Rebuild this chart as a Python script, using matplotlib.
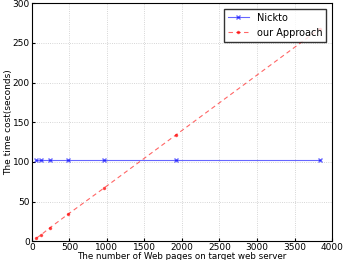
import matplotlib
matplotlib.use("Agg")
import matplotlib.pyplot as plt

pages = [60, 120, 240, 480, 960, 1920, 3840]
nickto = [102, 102, 102, 102, 102, 102, 102]
ours = [4, 8, 17, 34, 67, 134, 268]

fig = plt.figure(figsize=(3.43, 2.60), dpi=100)
ax = fig.add_axes([0.093, 0.072, 0.875, 0.916])
ax.plot(pages, nickto, color="blue", marker="x", markersize=3, linewidth=0.8, label="Nickto", alpha=0.6)
ax.plot(pages, ours, color="red", marker=".", markersize=3, linestyle=(0, (4, 3)), linewidth=0.8, label="our Approach", alpha=0.6)
ax.set_xlim(0, 4000)
ax.set_ylim(0, 300)
ax.set_xticks(range(0, 4001, 500))
ax.set_yticks(range(0, 301, 50))
ax.grid(True, linestyle=":", color="#c8c8c8", linewidth=0.6)
ax.tick_params(labelsize=6.5, length=2, direction="in", pad=1.5)
ax.set_xlabel("The number of Web pages on target web server", fontsize=6.3, labelpad=-0.5)
ax.set_ylabel("The time cost(seconds)", fontsize=6.5)
ax.yaxis.set_label_coords(-0.062, 0.5)
leg = ax.legend(loc="upper right", fontsize=7, fancybox=False, borderaxespad=0.6, handlelength=2.2)
leg.get_frame().set_edgecolor("black")
fig.savefig("out.png", dpi=100)
